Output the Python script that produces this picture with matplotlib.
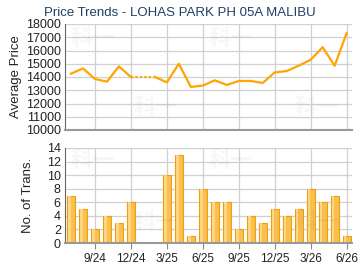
import numpy as np
import matplotlib.pyplot as plt

months = ['7/24', '8/24', '9/24', '10/24', '11/24', '12/24', '1/25', '2/25', '3/25', '4/25',
          '5/25', '6/25', '7/25', '8/25', '9/25', '10/25', '11/25', '12/25', '1/26', '2/26',
          '3/26', '4/26', '5/26', '6/26']
price = [14250, 14650, 13850, 13650, 14800, 14000, np.nan, 14000, 13600, 15000,
         13250, 13350, 13750, 13400, 13700, 13700, 13550, 14350, 14450, 14850,
         15300, 16250, 14850, 17300]
trans = [7, 5, 2, 4, 3, 6, 0, 0, 10, 13, 1, 8, 6, 6, 2, 4, 3, 5, 4, 5, 8, 6, 7, 1]
tick_labels = ['9/24', '12/24', '3/25', '6/25', '9/25', '12/25', '3/26', '6/26']

plt.rcParams['font.family'] = ['Liberation Sans', 'DejaVu Sans']
x = np.arange(len(months))
ticks = [months.index(t) for t in tick_labels]

fig = plt.figure(figsize=(3.6, 2.7), dpi=100)
ax1 = fig.add_axes([65/360, 1-130/270, 287/360, 106/270])
ax2 = fig.add_axes([65/360, 1-243/270, 287/360, 95/270])

grid_c = '#d0d0d0'
for ax in (ax1, ax2):
    ax.set_xlim(-0.5, 23.45)
    ax.set_xticks(ticks)
    ax.grid(True, color=grid_c, lw=0.9)
    ax.set_axisbelow(True)
    for s in ['top', 'right']:
        ax.spines[s].set_visible(False)
    ax.spines['left'].set_color('#666666')
    ax.spines['bottom'].set_color('#999999')
    ax.spines['bottom'].set_linewidth(1.5)
    ax.tick_params(axis='y', length=0, labelsize=9, pad=3, colors='#222222')
    ax.tick_params(axis='x', length=4, color='#888888', labelsize=8.5, colors='#222222')
    # faint watermark
    for wx, wy in [(0.02, 0.8), (0.5, 0.8), (0.24, 0.15), (0.8, 0.15)]:
        ax.text(wx, wy, '科一', transform=ax.transAxes, fontsize=16,
                family=['Noto Sans CJK SC'], color='#000000', alpha=0.03, weight='bold')

# price line: solid where data, dotted across the gap
p = np.array(price, dtype=float)
ax1.plot(x, p, color='#FFA500', lw=1.6)
gap = [5, 7]
ax1.plot(x[gap], p[gap], color='#FFA500', lw=1.6, ls=(0, (1, 1)))
ax1.set_ylim(10000, 18000)
ax1.set_yticks(range(10000, 18001, 1000))
ax1.set_xticklabels([])
ax1.tick_params(axis='x', length=0)
ax1.set_ylabel('Average Price', fontsize=9.5, color='#222222', labelpad=3)
fig.text(0.5, 1-16/270, 'Price Trends - LOHAS PARK PH 05A MALIBU', fontsize=9.5,
         color='#1f3f63', ha='center', va='baseline')

ax2.bar(x, trans, width=0.68, color='#F8C050', edgecolor='#EE9E10', lw=0.8)
ax2.bar(x - 0.12, trans, width=0.2, color='#FCD680', lw=0)
ax2.set_ylim(0, 14)
ax2.set_yticks(range(0, 15, 2))
ax2.set_xticklabels(tick_labels)
ax2.set_ylabel('No. of Trans.', fontsize=9.5, color='#222222', labelpad=9)

fig.savefig('out.png', dpi=100)
